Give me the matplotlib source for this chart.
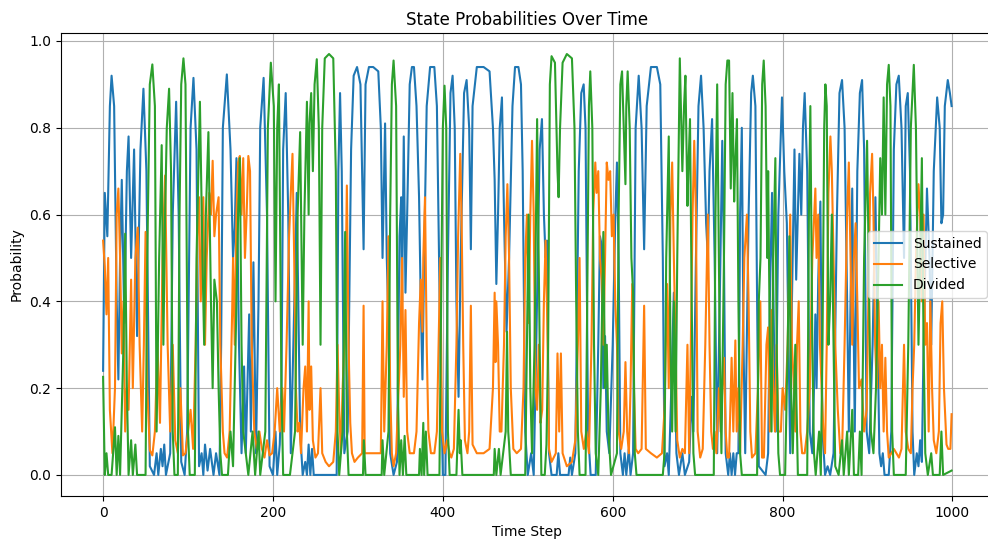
import matplotlib
matplotlib.use("Agg")
import matplotlib.pyplot as plt
import numpy as np

# Key points (time step, probability) for each attention state
sustained_points = [
    (0, .24), (2, .65), (5, .55), (8, .85), (10, .92), (13, .85), (16, .4), (18, .22), (20, .5), (22, .68),
    (25, .35), (28, .7), (30, .78), (33, .5), (36.5, .75), (40, .32), (44, .75), (47.5, .89), (51, .7), (55, .02),
    (60, 0), (63, .05), (65, 0), (68, .06), (70, .02), (72, .07), (74, 0), (79, .05), (82, .6), (86, .86),
    (89, .6), (92, .03), (96, 0), (99, .1), (103, .8), (106.4, .915), (110, .75), (113, .02), (116, .05), (118, 0),
    (120, .07), (123, .01), (126, .06), (130, 0), (133, .05), (137, 0), (139, .3), (141, .8), (145.7, .923), (150, .75),
    (153, .5), (155, .57), (157, .73), (160, .3), (163, .05), (166, .25), (168, .05), (172, .37), (174, .1), (177, .49),
    (180, .05), (183, .4), (185, .8), (189, .915), (193, .6), (196, .02), (200, 0), (203, .1), (205, 0), (208, .07),
    (210, .2), (212, .75), (215, .88), (218, .6), (221, .05), (224, .3), (228, .65), (232, .1), (235, 0), (238, .03),
    (240, 0), (242, .07), (244, 0), (246, .06), (248, 0), (275, 0), (277, .7), (279, .88), (281, .7), (284, .05),
    (288, .1), (292, .75), (295, .92), (299, .94), (303, .9), (306.7, .52), (309, .9), (313, .94), (318, .94), (324, .93),
    (327, .8), (329, .5), (331, .7), (332, .81), (334, .5), (336, .35), (338, .05), (342, 0), (346, .03), (349, .55),
    (351, .64), (352, .4), (354, .78), (356, .42), (358, .6), (361, .9), (363.6, .94), (366, .94), (369, .85), (372, .64),
    (374, .4), (376, .22), (378, .5), (381, .85), (385, .94), (390, .94), (393, .85), (397, .3), (400, 0), (403, 0),
    (406, .5), (409, .88), (411.5, .92), (414, .8), (416, .4), (418.5, .18), (421, .5), (425, .88), (428, .91), (431, .8),
    (433, .52), (435, .85), (440, .94), (448, .94), (455, .93), (459, .8), (461, .68), (463, .44), (465, .6), (467, .8),
    (469.6, .87), (472, .6), (475, .33), (478, .5), (482, .85), (485, .94), (489, .94), (492, .9), (494, .7), (497, .1),
    (500, 0), (504, .05), (507, 0), (510, .3), (514, .75), (516.7, .82), (519, .6), (521, .5), (522.6, .54), (525, .05),
    (528, 0), (534, 0), (536, .05), (538, 0), (548, 0), (550, .04), (552, 0), (556, .05), (560, .7), (563, .88),
    (565.8, .9), (568, .8), (571, .1), (574, 0), (580, 0), (583, .3), (585, .55), (587, .53), (589, .2), (591, .32),
    (593, .1), (596, .05), (600, .3), (603, .59), (605, .72), (607, .5), (609, .05), (612, 0), (614, .05), (616, 0),
    (619, .06), (621, 0), (624, .05), (627, .8), (630.6, .92), (634, .8), (637, .52), (640, .85), (645, .94), (652, .94),
    (656, .9), (659, .5), (661, .02), (664, .05), (666, 0), (669, .2), (672, .42), (675, .05), (678, 0), (682, .05),
    (685, 0), (690, .03), (693, .18), (695, .1), (698, .5), (701, .85), (704, .92), (707, .8), (710, .58), (712, .5),
    (714, .7), (717, .82), (720, .5), (723, .05), (726, .4), (729, .77), (731, .5), (733, .05), (736, 0), (738, .05),
    (740, 0), (742, .05), (744, 0), (746, .05), (748, .05), (750, .6), (752, .8), (754, .3), (756, .05), (760, .6),
    (763, .88), (765, .92), (768, .85), (770, .4), (772, .02), (780, 0), (783, .05), (785, .4), (787.6, .65), (790, .3),
    (792, .1), (795, .6), (799.3, .87), (802, .7), (805, .58), (807, .3), (809, .05), (811, .4), (814, .75), (816, .45),
    (819.8, .74), (822, .6), (824, .8), (826, .88), (829, .7), (832, .1), (835, .05), (837, .2), (838.6, .37), (840, .2),
    (842, .45), (844.5, .63), (847, .1), (850, 0), (853, .02), (856, 0), (860, .05), (864, .6), (867, .88), (870, .91),
    (873, .8), (876, .4), (878, .1), (880, .4), (882, .66), (884, .3), (885, .1), (888, .7), (891, .88), (893.6, .91),
    (896, .75), (899, .1), (902, .05), (906, .3), (909.3, .64), (912, .3), (914, .05), (916, .02), (918, .05), (920, 0),
    (925, 0), (928, .1), (931, .75), (934, .9), (936.8, .92), (940, .8), (943, .5), (945, .85), (947.4, .88), (950, .7),
    (953, .1), (955, 0), (958, .05), (960, .02), (962, .08), (964, .03), (966, .3), (970, .66), (973, .5), (975, .3),
    (978, .7), (982, .87), (985, .8), (987, .58), (989, .6), (991, .85), (994.5, .91), (997, .88), (999, .85),
]

selective_points = [
    (0, .54), (2, .48), (4, .37), (6, .5), (8, .15), (11, .05), (14, .2), (16, .6), (18, .66), (20, .5),
    (22, .28), (24, .4), (26, .1), (28, .2), (30, .15), (33, .45), (35, .2), (38, .5), (40.8, .57), (43, .3),
    (46, .1), (48, .3), (50, .56), (52, .2), (55, .057), (58, .045), (61, .1), (64, .3), (67, .12), (70, .5),
    (73, .69), (76, .3), (79, .1), (82, .3), (85, .08), (88, .05), (91, .2), (94, .045), (97, .05), (100, .1),
    (103, .15), (106, .06), (109, .3), (111, .55), (113, .64), (115, .4), (118, .64), (120, .3), (122, .5), (125, .65),
    (127, .6), (129, .724), (131, .55), (133, .6), (136, .64), (138, .3), (141, .1), (143, .05), (146, .04), (149, .1),
    (152, .38), (153, .5), (155, .3), (157, .6), (159, .72), (161, .735), (163, .6), (165, .73), (167, .5), (169, .6),
    (171, .735), (173, .7), (175, .3), (178, .1), (181, .06), (184, .1), (187, .06), (190, .04), (193, .08), (196, .045),
    (199, .05), (202, .1), (205, .2), (208, .1), (211, .2), (213, .1), (216, .3), (219, .55), (221, .65), (223, .74),
    (225, .5), (227, .2), (229, .1), (231, .12), (233, .05), (236, .2), (238, .25), (240, .1), (242, .4), (243, .15),
    (245, .25), (247, .08), (250, .04), (253, .05), (256, .2), (258, .05), (262, .03), (266, .02), (271, .03), (274, .1),
    (276, .3), (278, .15), (280, .05), (282, .2), (285, .35), (287, .667), (289, .3), (291, .12), (293, .05), (296, .03),
    (300, .04), (305, .05), (306.7, .39), (308, .05), (313, .05), (320, .05), (327, .05), (329, .4), (331, .1), (334, .3),
    (336, .55), (338, .2), (340, .05), (342, .02), (345, .05), (348, .2), (350, .3), (352, .5), (354, .18), (356, .38),
    (358, .1), (361, .05), (366, .05), (369, .1), (372, .35), (374, .45), (376, .33), (377, .5), (379, .64), (381, .3),
    (383, .1), (386, .05), (390, .05), (393, .1), (397, .5), (399, .1), (402, .05), (405, .08), (408, .05), (410, .04),
    (413, .06), (416, .3), (418, .55), (420.5, .74), (422, .6), (424, .3), (426, .08), (429, .05), (431, .1), (433, .39),
    (435, .07), (440, .05), (448, .05), (455, .06), (459, .2), (461, .42), (462, .26), (463, .4), (465, .3), (467, .1),
    (469, .1), (472, .3), (474, .55), (476, .67), (478, .5), (480, .2), (483, .06), (487, .05), (492, .06), (495, .2),
    (497, .5), (499, .6), (501, .35), (503, .6), (505, .77), (507, .6), (509, .2), (511, .15), (513, .3), (515, .12),
    (517, .15), (519, .4), (521, .54), (523, .35), (525, .06), (528, .03), (533, .05), (535, .28), (537, .1), (539, .28),
    (541, .05), (546, .02), (552, .03), (556, .08), (559, .3), (561, .5), (563, .1), (566, .06), (569, .1), (572, .05),
    (575, .3), (577, .6), (579.5, .72), (581, .65), (583, .7), (585, .5), (587, .45), (589, .3), (591, .5), (593, .72),
    (595, .68), (597, .7), (599, .55), (601, .6), (603, .4), (605, .3), (607, .1), (610, .06), (613, .1), (615, .26),
    (617, .1), (619, .05), (621, .2), (623, .44), (625, .2), (627, .06), (630, .05), (634, .06), (637, .39), (639, .06),
    (645, .05), (652, .04), (658, .05), (661, .15), (664, .44), (666, .2), (668, .6), (670, .72), (672, .5), (674, .3),
    (676, .08), (679, .04), (682, .06), (685, .05), (688, .3), (690, .05), (692, .3), (694, .6), (696, .77), (698, .6),
    (700, .1), (703, .04), (706, .06), (709, .3), (712, .6), (714, .3), (716, .1), (718, .06), (720, .1), (722, .05),
    (725, .2), (727, .1), (729, .2), (731, .27), (733, .1), (735, .04), (737, .04), (740, .27), (742, .1), (744.4, .31),
    (746, .1), (748, .2), (750, .05), (753, .3), (755, .5), (758, .6), (760, .4), (762, .1), (764, .04), (768, .05),
    (771, .2), (773.8, .4), (775.8, .04), (778, .04), (781, .3), (783, .34), (785, .1), (787, .38), (789, .2), (791, .1),
    (793, .3), (795, .1), (798, .1), (800, .2), (803, .15), (806, .3), (809, .6), (811, .3), (813, .22), (815, .1),
    (817, .3), (819, .4), (821, .1), (823, .05), (826, .05), (829, .1), (832, .2), (835, .5), (838.6, .66), (840, .5),
    (842, .6), (844, .3), (846, .2), (848, .1), (850, .05), (852, .3), (854, .65), (856.3, .78), (858, .7), (860, .5),
    (862, .3), (865, .15), (868, .05), (870, .05), (873, .3), (876, .6), (878, .72), (880, .5), (882, .3), (884, .5),
    (886, .58), (888, .4), (890, .2), (893, .22), (896, .1), (899, .15), (901, .4), (903, .65), (905.4, .74), (907, .6),
    (909, .3), (911, .2), (913, .4), (915, .2), (917, .3), (919, .1), (921, .27), (923, .1), (925, .04), (928, .05),
    (931, .06), (934, .05), (937, .04), (940, .06), (943, .3), (945, .1), (948, .06), (951, .05), (953, .2), (955, .3),
    (957, .5), (960, .67), (962, .6), (964, .4), (966, .6), (968, .3), (970, .35), (972, .1), (974, .4), (976, .2),
    (978, .08), (981, .05), (984, .1), (986, .35), (988, .4), (990, .2), (993, .07), (995, .06), (997.6, .06), (999, .14),
]

divided_points = [
    (0, .226), (2, 0), (4, .05), (6, 0), (10, 0), (14, .11), (16, 0), (18, .09), (20, 0), (24, .3),
    (26, .556), (28, .2), (30, 0), (33, .08), (35, 0), (38, .07), (40, 0), (50, 0), (52, .5), (55, .9),
    (58, .946), (61, .85), (63, .1), (66, .5), (69, .76), (71, .3), (73, .6), (75, .8), (77.7, .89), (80, .7),
    (82, .1), (84, 0), (88, 0), (90, .6), (92, .9), (94.6, .96), (97, .9), (100, .1), (102, 0), (108, 0),
    (110, .5), (114, .86), (117, .5), (119, .3), (121, .6), (124, .79), (127, .4), (129, .2), (131, .45), (134, .4),
    (136, .2), (138, .05), (140, 0), (147, 0), (150, .1), (153, .02), (156, .3), (159, .6), (161, .73), (163, .3),
    (165, .1), (168, .05), (171, 0), (176, .1), (179, 0), (183, .1), (185, 0), (191, .1), (194, .8), (197.5, .95),
    (201, .85), (203, .4), (205, .8), (207, .9), (210, .2), (212, 0), (220, 0), (223, .05), (226, .1), (229, .6),
    (232, .79), (235, .3), (237, .6), (240, .86), (242, .6), (243, .81), (245, .88), (247, .7), (249, .9), (251.6, .958),
    (254, .8), (256, .3), (258, .8), (261, .96), (266, .97), (271, .96), (274, .7), (276, .1), (278, 0), (282, .1),
    (285, .56), (287, .1), (289, 0), (306, 0), (307, .08), (309, 0), (328, 0), (329, .08), (331, 0), (336, .1),
    (338, .6), (340, .9), (342, .955), (345, .85), (347, .2), (349, 0), (351, .08), (353, 0), (355, .09), (357, 0),
    (372, 0), (373, .06), (375, 0), (377, .12), (378, 0), (380, .1), (382, 0), (396, 0), (398, .4), (400, .8),
    (402, .897), (404, .8), (406, .1), (408, 0), (416, 0), (418.5, .15), (420, .05), (421, .08), (423, 0), (460, 0),
    (461, .06), (463, 0), (466, .06), (468, 0), (474, .1), (475.6, .33), (477, .1), (478, .07), (480, 0), (497, 0),
    (499, .3), (501, .6), (503, .2), (505, .05), (508, .3), (511, .82), (514, .3), (516, 0), (520, 0), (522, .07),
    (524, .3), (526, .9), (528, .965), (532, .95), (535, .7), (536.3, .64), (538, .8), (541, .95), (546, .97), (552, .96),
    (555, .8), (557, .4), (559, .1), (561, 0), (568, 0), (570, .4), (572, .85), (573.6, .93), (576, .8), (578, .3),
    (580, .05), (583, 0), (586, .2), (589, .56), (591, .2), (593, .3), (595, .1), (598, 0), (605, .05), (607, .6),
    (609, .9), (611, .93), (613, .8), (615, .67), (616, .85), (617.6, .93), (620, .8), (622, .5), (624, .42), (626, .05),
    (628, 0), (659, 0), (661, .05), (663, .5), (666, .78), (668, .3), (670, .1), (672, .4), (674, .1), (676, .5),
    (679, .96), (682, .7), (684, .85), (685.6, .92), (688, .62), (689, .7), (691, .82), (693, .4), (695, .05), (697, 0),
    (719, 0), (721, .6), (723, .9), (726, .3), (728, .05), (731, .5), (733, .9), (735, .955), (737, .955), (739, .66),
    (741, .88), (743, .63), (744, .7), (746.3, .82), (748, .4), (750, .05), (752, 0), (770, 0), (772, .4), (774, .5),
    (776, .9), (777.8, .955), (780, .85), (782, .5), (783, .7), (785, .3), (787, .1), (789, .5), (791.5, .73), (793, .3),
    (795, .05), (797, 0), (803, 0), (806, .3), (808, .55), (810, .2), (812, .05), (815, .3), (818, 0), (829, 0),
    (831, .6), (832.7, .85), (835, .3), (837, .05), (839, 0), (843, .1), (845, 0), (847, .3), (849, .8), (850.4, .9),
    (852, .85), (854, .3), (856, .4), (858, .6), (860, .3), (862, .02), (866, 0), (870, .08), (872, 0), (876, .1),
    (878, 0), (882, .15), (884, 0), (889, 0), (891, .1), (893, 0), (896, .5), (899.5, .77), (902, .4), (904, .1),
    (907, .05), (910, .2), (913, .5), (915, .73), (917, .6), (919, .87), (921, .6), (923, .9), (925, .945), (927, .85),
    (929, .1), (931, 0), (945, 0), (948, .3), (951, .8), (954.5, .945), (957, .8), (960, .3), (962, .5), (964, .73),
    (966, .3), (968, .05), (971, 0), (975, .05), (977, 0), (985, 0), (987, .1), (989, 0), (999, .01),
]

series_names = ["Sustained", "Selective", "Divided"]
series_points = [sustained_points, selective_points, divided_points]

fig = plt.figure(figsize=(9.88, 5.43), dpi=100)
ax = fig.add_axes([0.0614, 0.0866, 0.9447, 0.8527])

for name, pts in zip(series_names, series_points):
    arr = np.array(pts, dtype=float)
    ax.plot(arr[:, 0], arr[:, 1], label=name, linewidth=1.5)

ax.set_xlim(-49.95, 1048.95)
ax.set_ylim(-0.0485, 1.0185)
ax.set_title("State Probabilities Over Time", fontsize=12)
ax.set_xlabel("Time Step")
ax.set_ylabel("Probability")
ax.grid(True)
ax.legend(loc="center right")

fig.savefig("out.png", dpi=100)
